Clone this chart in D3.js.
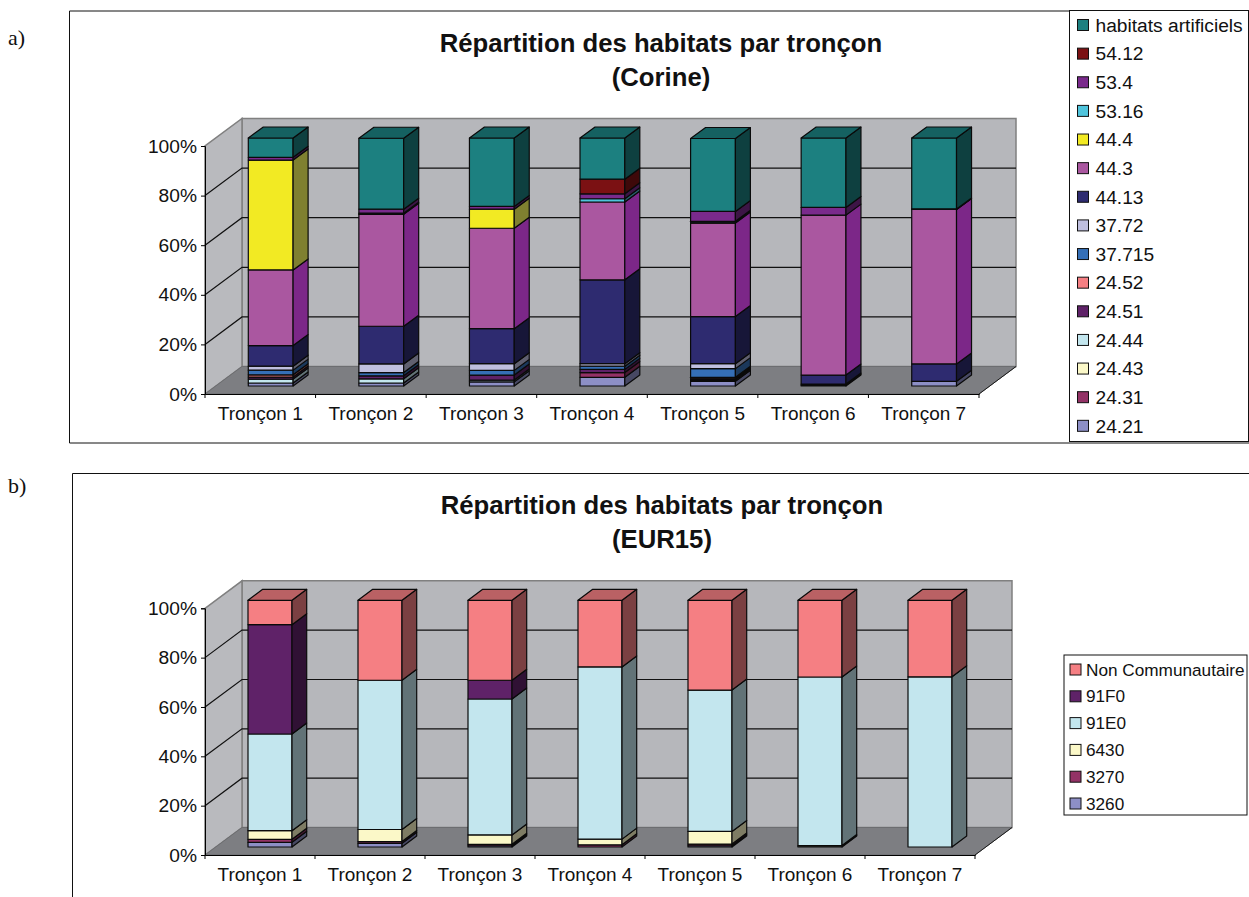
<!DOCTYPE html>
<html>
<head>
<meta charset="utf-8">
<script src="https://cdnjs.cloudflare.com/ajax/libs/d3/7.8.5/d3.min.js"></script>
<style>
html, body { margin: 0; padding: 0; background: #fff; overflow: hidden; }
svg { display: block; }
text { font-family: "Liberation Sans", Arial, sans-serif; fill: #111; }
</style>
</head>
<body>
<svg id="page" width="1249" height="897"></svg>
<script>
const categories = ["Tronçon 1", "Tronçon 2", "Tronçon 3", "Tronçon 4", "Tronçon 5", "Tronçon 6", "Tronçon 7"];
const percentTicks = [0, 20, 40, 60, 80, 100];

// Corine classes, bottom of the stack first
const corineKeys = ["24.21", "24.31", "24.43", "24.44", "24.51", "24.52", "37.715", "37.72", "44.13", "44.3", "44.4", "53.16", "53.4", "54.12", "habitats artificiels"];
const corine2421 = [1.2, 1.2, 1.7, 3.5, 1.9, 0, 1.9];
const corine2431 = [0, 0, 0, 1.9, 0.3, 0, 0];
const corine2443 = [0, 0, 0, 0, 0.3, 0, 0];
const corine2444 = [1.6, 1.7, 0.7, 0, 0.3, 0, 0];
const corine2451 = [0.8, 1.2, 2.0, 1.3, 0.35, 0.4, 0];
const corine2452 = [0.9, 0, 0, 0, 0.35, 0.4, 0];
const corine37715 = [1.9, 1.3, 1.9, 1.3, 3.5, 0, 0];
const corine3772 = [1.6, 3.5, 2.7, 1.0, 2.0, 0, 0];
const corine4413 = [8.3, 15.2, 14.1, 33.8, 19.0, 3.6, 7.0];
const corine443 = [30.5, 45.1, 40.5, 31.4, 37.7, 64.5, 62.3];
const corine444 = [44.3, 0.25, 7.7, 0, 0.35, 0, 0.1];
const corine5316 = [0, 0.25, 0, 1.3, 0.35, 0, 0.1];
const corine534 = [1.1, 1.6, 1.1, 2.0, 4.0, 3.1, 0];
const corine5412 = [0, 0, 0, 5.9, 0, 0, 0];
const corineArtificial = [7.8, 28.6, 27.6, 16.6, 29.4, 28.0, 28.6];

// Natura 2000 classes, bottom of the stack first
const eurKeys = ["3260", "3270", "6430", "91E0", "91F0", "Non Communautaire"];
const eur3260 = [1.9, 1.5, 0.5, 0, 0.5, 0.3, 0];
const eur3270 = [1.2, 0.7, 0.6, 0.9, 0.7, 0, 0];
const eur6430 = [3.5, 4.9, 3.8, 2.3, 5.1, 0.3, 0];
const eur91E0 = [39.2, 60.5, 55.1, 69.8, 57.3, 68.3, 69.0];
const eur91F0 = [44.3, 0, 7.6, 0, 0, 0, 0];
const eurOther = [9.9, 32.4, 32.4, 27.0, 36.4, 31.1, 31.0];

const corineColors = ["#8d8fc6", "#933266", "#fbf8c8", "#c3e6ee", "#5f2268", "#f57f83", "#356fb6", "#bfbfdf", "#2e2b70", "#aa57a0", "#f2ea23", "#4fc4dc", "#7a2a8c", "#7b1113", "#1c8080"];
const eurColors = ["#8d8fc6", "#933266", "#fbf8c8", "#c3e6ee", "#5f2268", "#f57f83"];

function rowsFrom(keys, columns) {
  return categories.map((name, i) => {
    const row = { name };
    keys.forEach((k, j) => { row[k] = columns[j][i]; });
    return row;
  });
}

const corineRows = rowsFrom(corineKeys, [corine2421, corine2431, corine2443, corine2444, corine2451, corine2452, corine37715, corine3772, corine4413, corine443, corine444, corine5316, corine534, corine5412, corineArtificial]);
const eurRows = rowsFrom(eurKeys, [eur3260, eur3270, eur6430, eur91E0, eur91F0, eurOther]);

const svg = d3.select("#page");

// Two classes keep their own side tone; every other side is a plain half-tone.
const sideOverrides = { "44.3": "#7c2788", "44.4": "#7f8030" };
function sideShade(key, color) {
  if (sideOverrides[key]) return sideOverrides[key];
  const c = d3.rgb(color);
  return d3.rgb(c.r * 0.5, c.g * 0.5, c.b * 0.5).formatHex();
}
function topShade(color) {
  const c = d3.rgb(color);
  return d3.rgb(c.r * 0.76, c.g * 0.76, c.b * 0.76).formatHex();
}

function drawPanel(p) {
  const g = svg.append("g");

  // Panel frame
  g.append("path").attr("d", p.frame).attr("fill", "none").attr("stroke", "#111").attr("stroke-width", 1);

  // Titles
  g.selectAll("text.title").data(p.title).join("text")
    .attr("class", "title")
    .attr("x", p.titleX).attr("y", (d, i) => p.titleY + i * p.titleGap)
    .attr("text-anchor", "middle")
    .attr("font-size", 25.7).attr("font-weight", "bold")
    .text(d => d);

  const x = d3.scaleBand().domain(categories).range([p.left, p.right]);
  const y = d3.scaleLinear().domain([0, 100]).range([p.base, p.base - p.height]);
  const line = d3.line();

  // Walls and floor
  const floor = [[p.left, p.base], [p.right, p.base], [p.right + p.depthX, p.base - p.depthY], [p.left + p.depthX, p.base - p.depthY]];
  const back = [[p.left + p.depthX, p.base - p.depthY], [p.right + p.depthX, p.base - p.depthY], [p.right + p.depthX, y(100) - p.depthY], [p.left + p.depthX, y(100) - p.depthY]];
  const side = [[p.left, p.base], [p.left + p.depthX, p.base - p.depthY], [p.left + p.depthX, y(100) - p.depthY], [p.left, y(100)]];
  g.append("path").attr("d", line(back) + "Z").attr("fill", "#b6b7bb").attr("stroke", "#808080").attr("stroke-width", 1.5);
  g.append("path").attr("d", line(side) + "Z").attr("fill", "#b9babe").attr("stroke", "#808080").attr("stroke-width", 1.5);
  g.append("path").attr("d", line(floor) + "Z").attr("fill", "#7d7e82").attr("stroke", "#6c6d70").attr("stroke-width", 1);

  // Gridlines run along the left wall and across the back wall
  const grid = g.append("g").attr("stroke", "#111").attr("stroke-width", 1.2).attr("fill", "none");
  percentTicks.filter(t => t > 0 && t < 100).forEach(t => {
    grid.append("path").attr("d", line([[p.left, y(t)], [p.left + p.depthX, y(t) - p.depthY], [p.right + p.depthX, y(t) - p.depthY]]));
  });

  // Axes
  const yAxis = d3.axisLeft(y).tickValues(percentTicks).tickFormat(d => d + "%").tickSize(4).tickPadding(4);
  const yG = g.append("g").attr("transform", `translate(${p.left},0)`).call(yAxis);
  yG.selectAll("text").attr("font-size", 19.2);
  const xAxis = d3.axisBottom(x).tickSizeInner(0).tickSizeOuter(0).tickPadding(13);
  const xG = g.append("g").attr("transform", `translate(0,${p.base})`).call(xAxis);
  xG.selectAll("text").attr("font-size", 19);
  g.append("g").attr("stroke", "#000").selectAll("line").data(d3.range(categories.length + 1)).join("line")
    .attr("x1", i => p.left + i * x.step()).attr("x2", i => p.left + i * x.step())
    .attr("y1", p.base).attr("y2", p.base + 4);
  g.append("path").attr("d", line(floor.slice(1, 3))).attr("stroke", "#1a1a1a").attr("fill", "none");

  // Stacked columns, drawn as extruded boxes on a plane set back from the axes
  const series = d3.stack().keys(p.keys)(p.rows);
  const color = d3.scaleOrdinal().domain(p.keys).range(p.colors);
  const barY = v => y(v) - p.barLift;
  const bars = g.append("g").attr("stroke", "#0a0a0a").attr("stroke-width", 1.2).attr("stroke-linejoin", "round");
  categories.forEach((cat, ci) => {
    const x0 = x(cat) + p.barInset, x1 = x0 + p.barWidth;
    const col = bars.append("g");
    series.forEach(s => {
      const [a, b] = s[ci];
      if (b - a <= 0) return;
      const c = color(s.key);
      col.append("rect").attr("x", x0).attr("width", p.barWidth)
        .attr("y", barY(b)).attr("height", barY(a) - barY(b)).attr("fill", c);
      col.append("path").attr("fill", sideShade(s.key, c)).attr("d", line([
        [x1, barY(a)], [x1 + p.boxX, barY(a) - p.boxY], [x1 + p.boxX, barY(b) - p.boxY], [x1, barY(b)]
      ]) + "Z");
    });
    const topSeries = series.filter(s => s[ci][1] - s[ci][0] > 0).pop();
    const t = barY(topSeries[ci][1]);
    col.append("path").attr("fill", topShade(color(topSeries.key))).attr("d", line([
      [x0, t], [x1, t], [x1 + p.boxX, t - p.boxY], [x0 + p.boxX, t - p.boxY]
    ]) + "Z");
  });

  // Legend, highest class first
  const lg = g.append("g");
  lg.append("rect").attr("x", p.legend.x).attr("y", p.legend.y).attr("width", p.legend.w).attr("height", p.legend.h)
    .attr("fill", "#fff").attr("stroke", "#111");
  const items = lg.selectAll("g").data(p.keys.slice().reverse()).join("g")
    .attr("transform", (d, i) => `translate(${p.legend.x + p.legend.swatchX},${p.legend.first + i * p.legend.step})`);
  items.append("rect").attr("x", 0).attr("y", -5.5).attr("width", 11).attr("height", 11)
    .attr("fill", d => color(d)).attr("stroke", "#111");
  items.append("text").attr("x", p.legend.textX).attr("dy", "0.35em").attr("font-size", p.legend.font).text(d => d);
}

drawPanel({
  rows: corineRows, keys: corineKeys, colors: corineColors,
  title: ["Répartition des habitats par tronçon", "(Corine)"], titleX: 661, titleY: 52, titleGap: 34,
  frame: "M1249,11H69.5V443H1249",
  left: 205, right: 979, base: 394, height: 248, depthX: 37, depthY: 27.5,
  barInset: 43.3, barWidth: 44.8, barLift: 8, boxX: 15, boxY: 11,
  legend: { x: 1069.5, y: 10.5, w: 179, h: 431, swatchX: 8, textX: 18, first: 25, step: 28.63, font: 19.2 }
});

drawPanel({
  rows: eurRows, keys: eurKeys, colors: eurColors,
  title: ["Répartition des habitats par tronçon", "(EUR15)"], titleX: 662, titleY: 514, titleGap: 34,
  frame: "M1249,473.5H72.5V897",
  left: 205, right: 975, base: 855, height: 246.7, depthX: 37, depthY: 27.5,
  barInset: 43, barWidth: 44, barLift: 8, boxX: 14.7, boxY: 11,
  legend: { x: 1064, y: 655, w: 183, h: 160, swatchX: 6, textX: 16, first: 669.5, step: 26.8, font: 17.2 }
});

// Panel letters
svg.selectAll("text.panel").data([{ t: "a)", y: 45 }, { t: "b)", y: 493 }]).join("text")
  .attr("class", "panel").attr("x", 8).attr("y", d => d.y)
  .attr("font-size", 22).style("font-family", '"Liberation Serif", "Times New Roman", serif')
  .text(d => d.t);
</script>
</body>
</html>
